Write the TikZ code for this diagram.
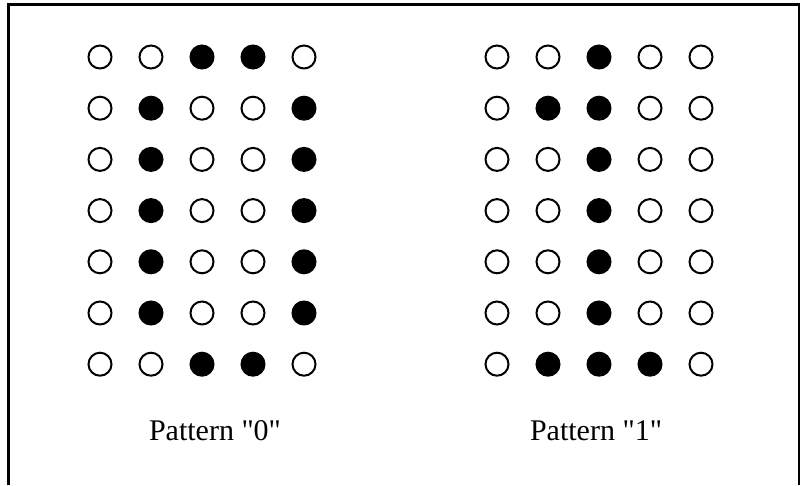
\documentclass[tikz,border=0pt]{standalone}
\usepackage{fontspec}
\setmainfont{Liberation Serif}[Ligatures=TeXOff]
\usepackage{tikz}
\tikzset{dotoff/.style={circle, draw, line width=2pt, minimum size=23pt, inner sep=0pt, fill=white},
  doton/.style={dotoff, fill=black},
  plabel/.style={anchor=base, font=\fontsize{30}{36}\selectfont}}

\begin{document}
\begin{tikzpicture}[x=1pt, y=-1pt]
\useasboundingbox (0,0) rectangle (800,485);
% open frame
\draw[line width=3pt] (8,485) -- (8,4.5) -- (799,4.5) -- (799,485);
% pattern "0"
\foreach \row [count=\r] in {{0,0,1,1,0},{0,1,0,0,1},{0,1,0,0,1},{0,1,0,0,1},{0,1,0,0,1},{0,1,0,0,1},{0,0,1,1,0}}
  \foreach \b [count=\c] in \row {
    \ifnum\b=1 \def\dstyle{doton}\else \def\dstyle{dotoff}\fi
    \node[\dstyle] (z-\r-\c) at ({100+51*(\c-1)}, {57+51.2*(\r-1)}) {};
  }
% pattern "1"
\foreach \row [count=\r] in {{0,0,1,0,0},{0,1,1,0,0},{0,0,1,0,0},{0,0,1,0,0},{0,0,1,0,0},{0,0,1,0,0},{0,1,1,1,0}}
  \foreach \b [count=\c] in \row {
    \ifnum\b=1 \def\dstyle{doton}\else \def\dstyle{dotoff}\fi
    \node[\dstyle] (o-\r-\c) at ({497+51*(\c-1)}, {57+51.2*(\r-1)}) {};
  }
% captions
\node[plabel] (lblzero) at (215,440) {Pattern "0"};
\node[plabel] (lblone) at (596,440) {Pattern "1"};
\end{tikzpicture}
\end{document}
